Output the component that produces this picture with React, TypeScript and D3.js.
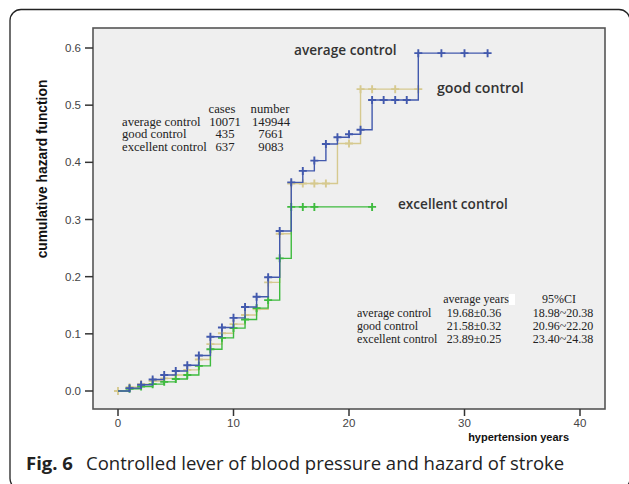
import React from "react";
import * as d3 from "d3";

// ---- data ----
const avgTimes = [0,1,2,3,4,5,6,7,8,9,10,11,12,13,14,15,16,17,18,19,20,21,22,23,24,25,26];
const avgValues = [0,0.005,0.011,0.020,0.028,0.035,0.045,0.062,0.095,0.111,0.128,0.147,0.165,0.199,0.280,0.365,0.385,0.403,0.432,0.444,0.449,0.457,0.509,0.509,0.509,0.509,0.591];
const avgEnd = 32;
const avgMarks = [1,2,3,4,5,6,7,8,9,10,11,12,13,14,15,16,17,18,19,20,21,22,23,24,25,26,28,30,32];

const goodTimes = [0,1,2,3,4,5,6,7,8,9,10,11,12,13,14,15,16,17,18,19,20,21];
const goodValues = [0,0.0065,0.012,0.0175,0.022,0.028,0.037,0.055,0.082,0.101,0.117,0.133,0.143,0.190,0.275,0.363,0.363,0.363,0.363,0.433,0.433,0.528];
const goodEnd = 26;
const goodMarks = [0,1,2,3,4,5,6,7,8,9,10,11,12,13,14,15,16,17,18,20,21,22,24,26];

const excTimes = [0,1,2,3,4,5,6,7,8,9,10,11,12,13,14,15];
const excValues = [0,0.004,0.008,0.012,0.016,0.021,0.028,0.044,0.073,0.093,0.110,0.125,0.145,0.159,0.232,0.322];
const excEnd = 22;
const excMarks = [1,2,3,4,5,6,7,8,9,10,11,12,13,14,15,16,17,22];

const seriesNames = ["average control", "good control", "excellent control"];

const yTicks = [0, 0.1, 0.2, 0.3, 0.4, 0.5, 0.6];
const xTicks = [0, 10, 20, 30, 40];

const table1Header = ["cases", "number"];
const table1Cases = ["10071", "435", "637"];
const table1Numbers = ["149944", "7661", "9083"];

const table2Header = ["average years", "95%CI"];
const table2Means = ["19.68±0.36", "21.58±0.32", "23.89±0.25"];
const table2CI = ["18.98~20.38", "20.96~22.20", "23.40~24.38"];

const captionBold = "Fig. 6";
const captionText = "Controlled lever of blood pressure and hazard of stroke";
const yTitle = "cumulative hazard function";
const xTitle = "hypertension years";

// ---- styles ----
const colors = ["#4259ad", "#d6c98f", "#3fbb3f"];

export default function App() {
  const x = d3.scaleLinear().domain([0, 40]).range([118, 580]);
  const y = d3.scaleLinear().domain([0, 0.6]).range([391, 48]);
  const line = d3
    .line<[number, number]>()
    .x((d) => x(d[0]))
    .y((d) => y(d[1]))
    .curve(d3.curveStepAfter);

  const build = (times: number[], vals: number[], end: number) => {
    const pts: [number, number][] = times.map((t, i) => [t, vals[i]]);
    pts.push([end, vals[vals.length - 1]]);
    return pts;
  };
  const levelAt = (times: number[], vals: number[], t: number) => {
    let v = vals[0];
    for (let i = 0; i < times.length; i++) if (times[i] <= t) v = vals[i];
    return v;
  };

  const series = [
    { times: goodTimes, vals: goodValues, end: goodEnd, marks: goodMarks, color: colors[1] },
    { times: excTimes, vals: excValues, end: excEnd, marks: excMarks, color: colors[2] },
    { times: avgTimes, vals: avgValues, end: avgEnd, marks: avgMarks, color: colors[0] },
  ];

  const plot = { l: 93, t: 28, r: 605, b: 409 };
  const tick = { fontFamily: "'Liberation Sans', Arial, sans-serif", fontSize: 11.5, fill: "#444" };
  const serif1 = { fontFamily: "'Liberation Serif', 'Times New Roman', serif", fontSize: 12.7, fill: "#222" };
  const serif2 = { fontFamily: "'Liberation Serif', 'Times New Roman', serif", fontSize: 12, fill: "#222" };
  const lab = { fontFamily: "'Open Sans', sans-serif", fontSize: 13.6, fontWeight: 600, fill: "#333" };

  return (
    <svg width={629} height={484} style={{ position: "absolute", left: 0, top: 0, background: "#fff" }}>
      <rect x={10} y={9.5} width={620} height={480} rx={11} fill="#fff" stroke="#222" strokeWidth={1.3} />
      <rect x={plot.l} y={plot.t} width={plot.r - plot.l} height={plot.b - plot.t} fill="#efefef" stroke="#555" strokeWidth={1.6} />

      {yTicks.map((v) => (
        <g key={v}>
          <line x1={85} x2={plot.l} y1={y(v)} y2={y(v)} stroke="#333" strokeWidth={1.5} />
          <text x={81} y={y(v) + 4} textAnchor="end" {...tick}>{v.toFixed(1)}</text>
        </g>
      ))}
      {xTicks.map((v) => (
        <g key={v}>
          <line x1={x(v)} x2={x(v)} y1={plot.b} y2={plot.b + 7} stroke="#333" strokeWidth={1.5} />
          <text x={x(v)} y={427} textAnchor="middle" {...tick}>{v}</text>
        </g>
      ))}

      <text transform={`translate(47,${169}) rotate(-90)`} textAnchor="middle"
        style={{ fontFamily: "'Liberation Sans', Arial, sans-serif", fontSize: 13.8, fontWeight: 700 }} fill="#111">{yTitle}</text>
      <text x={569} y={441} textAnchor="end"
        style={{ fontFamily: "'Liberation Sans', Arial, sans-serif", fontSize: 11, fontWeight: 700 }} fill="#111">{xTitle}</text>

      {series.map((s, i) => (
        <g key={i}>
          <path d={line(build(s.times, s.vals, s.end)) || ""} fill="none" stroke={s.color} strokeWidth={1.4} />
          {s.marks.map((t) => {
            const cx = x(t), cy = y(levelAt(s.times, s.vals, t));
            return <path key={t} d={`M${cx - 4},${cy}h8M${cx},${cy - 4}v8`} stroke={s.color} strokeWidth={1.9} />;
          })}
        </g>
      ))}

      <text x={294} y={55} {...lab}>{seriesNames[0]}</text>
      <text x={437} y={93} {...lab} fontSize={14.2}>{seriesNames[1]}</text>
      <text x={398} y={209} {...lab}>{seriesNames[2]}</text>

      {/* table 1 */}
      <text x={222} y={112.5} textAnchor="middle" {...serif1}>{table1Header[0]}</text>
      <text x={270} y={112.5} textAnchor="middle" {...serif1}>{table1Header[1]}</text>
      {seriesNames.map((n, i) => (
        <g key={n}>
          <text x={122} y={125.5 + i * 12.8} {...serif1}>{n}</text>
          <text x={225} y={125.5 + i * 12.8} textAnchor="middle" {...serif1}>{table1Cases[i]}</text>
          <text x={271} y={125.5 + i * 12.8} textAnchor="middle" {...serif1}>{table1Numbers[i]}</text>
        </g>
      ))}

      {/* table 2 */}
      <rect x={509} y={294} width={6} height={11} fill="#fff" />
      <text x={476} y={303} textAnchor="middle" {...serif2}>{table2Header[0]}</text>
      <text x={559} y={303} textAnchor="middle" {...serif2}>{table2Header[1]}</text>
      {seriesNames.map((n, i) => (
        <g key={n}>
          <text x={357} y={316.5 + i * 13.2} {...serif2}>{n}</text>
          <text x={474} y={316.5 + i * 13.2} textAnchor="middle" {...serif2}>{table2Means[i]}</text>
          <text x={563} y={316.5 + i * 13.2} textAnchor="middle" {...serif2}>{table2CI[i]}</text>
        </g>
      ))}

      <text x={26} y={470} style={{ fontFamily: "'Open Sans', sans-serif", fontSize: 18.5 }} fill="#222">
        <tspan fontWeight={700}>{captionBold}</tspan>
        <tspan x={86}>{captionText}</tspan>
      </text>
    </svg>
  );
}
